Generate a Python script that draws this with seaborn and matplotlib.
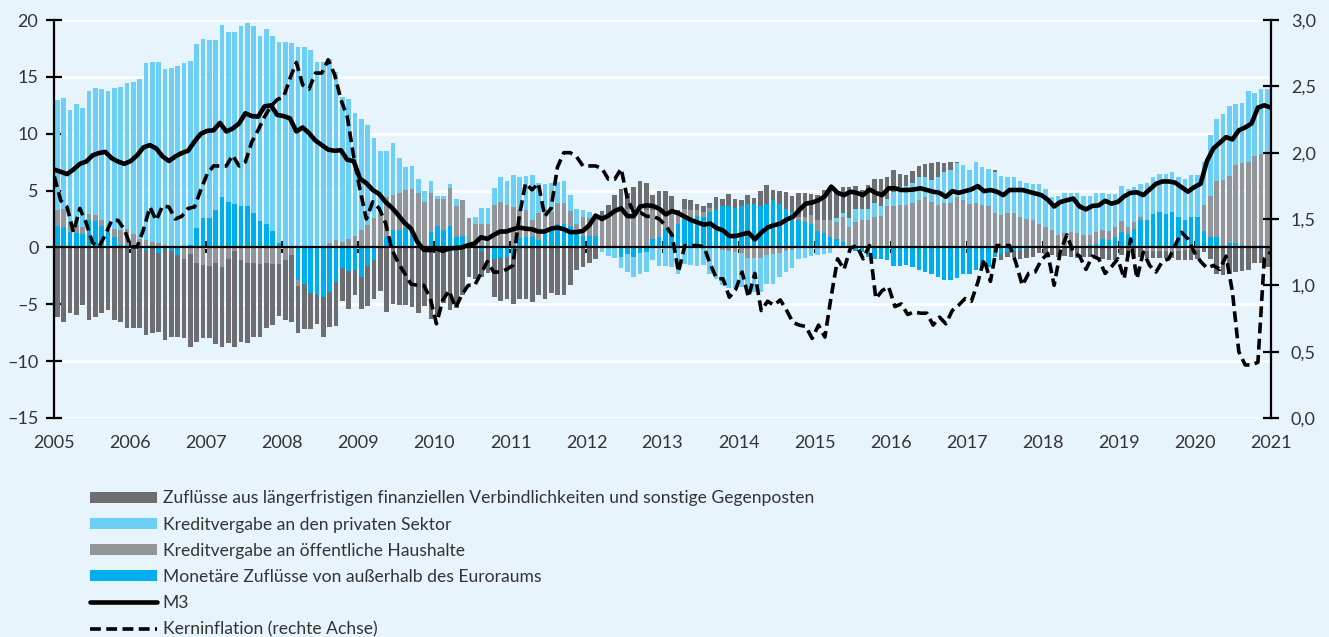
import numpy as np
import pandas as pd
import matplotlib
matplotlib.use("Agg")
import matplotlib.pyplot as plt
import seaborn as sns
from matplotlib.patches import Patch
from matplotlib.lines import Line2D

# ---------------- data (monthly, Jan 2005 - Dec 2020) ----------------
months = pd.date_range("2005-01-01", periods=192, freq="MS")

monetaer = [1.9, 1.8, 1.4, 1.3, 1.2, 2.4, 2.35, 1.9, 1.4, 0.95, 0.2, 0.2, 0.15, 0.0, -0.25, 0.0, -0.5, 0.0, -0.3, -0.7, 0.0, 0.2, 1.7, 2.6, 2.6, 3.3, 4.4,
            4.0, 3.8, 3.6, 3.6, 3.05, 2.35, 2.05, 1.45, 0.35, 0.0, 0.0, -2.9, -3.2, -4.0, -4.2, -4.35, -3.9, -3.0, -1.85, -2.05, -1.95, -2.6, -1.65, -1.1, 0.0, 0.95, 1.5,
            1.5, 1.75, 1.6, 0.35, 0.0, 1.4, 1.9, 1.5, 1.9, 0.95, 1.0, 0.0, 0.0, -0.3, 0.0, -1.05, -0.9, -0.8, -0.75, 0.8, 0.95, 0.9, 0.65, 1.15, 1.5, 2.05, 2.1,
            1.9, 1.5, 1.0, 1.0, 1.0, 0.1, 0.0, 0.0, -0.8, -0.6, -0.8, -0.5, -0.4, 0.7, 0.9, 1.65, 1.3, 2.05, 2.55, 2.55, 2.8, 2.7, 3.15, 3.3, 3.6, 3.6, 3.45,
            3.6, 3.85, 3.85, 3.6, 3.85, 4.15, 3.85, 3.35, 3.15, 2.4, 2.25, 2.05, 1.45, 1.3, 0.9, 0.7, 0.5, 0.0, -0.3, -0.4, -0.8, -1.0, -1.0, -1.1, -1.65, -1.65,
            -1.55, -1.7, -1.95, -2.15, -2.3, -2.6, -2.9, -2.9, -2.65, -2.3, -2.3, -2.0, -1.85, -1.7, -0.8, -0.6, -0.4, -0.3, -0.2, -0.1, 0.0, 0.0, 0.0, 0.0, 0.0, 0.0, 0.0,
            0.0, 0.0, 0.2, 0.3, 0.7, 0.65, 0.9, 1.4, 1.15, 1.65, 2.45, 2.4, 2.95, 3.15, 2.95, 3.15, 2.65, 2.4, 2.65, 2.7, 1.45, 0.95, 0.95, 0.0, 0.35, 0.4, 0.2, 0.0, 0.0, 0.2, 0.0]

oeffentlich = [1.4, 1.55, 0.85, 0.7, 0.6, 0.5, 0.5, 0.5, 0.4, 0.65, 1.3, 1.45, 1.05, 0.7, 0.65, 0.5, 0.35, 0.2, 0.1, 0.0, -1.0, -0.6, -1.4, -1.55, -1.65, -1.4, -1.7,
               -1.05, -0.3, -1.1, -1.35, -1.35, -1.45, -1.4, -1.45, -1.45, -1.1, -0.7, -0.45, 0.0, 0.0, 0.0, 0.0, 0.4, 0.65, 0.5, 0.7, 1.0, 1.5, 1.95, 2.55, 2.95, 3.45, 3.1,
               3.3, 3.3, 3.55, 4.4, 4.0, 3.35, 2.35, 2.75, 3.35, 2.7, 3.15, 2.55, 2.05, 2.1, 2.1, 3.7, 4.0, 3.7, 3.55, 2.5, 2.35, 1.5, 2.4, 2.2, 1.65, 1.85, 1.8,
               1.3, 0.6, 1.65, 1.55, 1.7, 2.6, 2.85, 3.15, 3.6, 3.35, 3.45, 3.6, 3.3, 2.6, 2.75, 1.45, 1.9, 0.85, 0.8, 0.7, 0.5, 0.4, 0.3, 0.0, -0.2, -0.3, -0.4,
               -0.5, -0.9, -0.9, -0.9, -0.7, -0.6, -0.5, -0.3, -0.2, 0.3, 0.4, 0.8, 0.95, 1.1, 1.5, 1.55, 2.2, 1.8, 2.25, 2.45, 2.4, 2.7, 2.75, 3.6, 3.6, 3.7,
               3.7, 3.9, 4.2, 4.4, 4.0, 3.7, 3.9, 3.9, 4.45, 4.15, 3.85, 3.9, 3.7, 3.6, 3.0, 2.85, 3.05, 3.05, 2.7, 2.5, 2.4, 2.05, 1.8, 1.5, 1.1, 1.25, 1.4,
               1.3, 1.1, 0.9, 1.1, 0.8, 0.8, 0.9, 0.95, 0.65, 0.6, 0.25, -0.3, -0.3, -0.3, -0.35, -0.3, -0.3, -0.2, -0.2, -0.2, 2.25, 3.6, 4.9, 5.9, 5.95, 6.85, 7.2, 7.55, 8.05, 8.0, 8.25]

privat = [9.66, 9.75, 9.85, 10.6, 10.5, 10.85, 11.2, 11.5, 12.0, 12.45, 12.65, 12.8, 13.35, 14.1, 15.55, 15.8, 15.95, 15.45, 15.7, 15.95, 16.25, 16.2, 16.15, 15.7, 15.6, 14.95, 15.15,
          14.95, 15.15, 15.85, 16.15, 16.4, 16.25, 17.2, 17.1, 17.7, 18.05, 18.0, 17.65, 17.65, 17.35, 16.35, 16.3, 16.15, 14.8, 12.7, 12.35, 10.85, 9.8, 8.8, 7.05, 5.5, 4.05, 4.6,
          3.05, 2.05, 2.0, 1.3, 0.95, 1.1, 0.25, 0.3, 0.3, 0.6, 0.05, 0.0, 0.65, 1.35, 1.35, 1.55, 2.15, 2.15, 2.8, 2.85, 3.0, 3.95, 2.6, 2.2, 2.55, 1.85, 1.9,
          1.45, 1.25, 0.65, 0.6, 0.2, -0.4, -0.75, -0.9, -1.05, -1.55, -1.8, -1.8, -1.75, -1.1, -1.65, -1.65, -1.7, -2.3, -1.45, -1.55, -1.65, -1.55, -2.3, -2.8, -3.1, -3.3, -3.2,
          -3.0, -2.8, -3.0, -3.0, -2.5, -2.6, -2.1, -1.9, -1.65, -1.05, -0.95, -0.75, -0.7, -0.6, -0.5, 0.3, 0.3, 0.75, 1.1, 0.9, 0.95, 1.25, 0.85, 0.7, 1.3, 1.65,
          1.7, 1.75, 1.95, 1.8, 1.9, 2.45, 2.75, 2.95, 2.95, 3.1, 2.95, 3.65, 3.4, 3.3, 3.65, 3.45, 3.15, 3.15, 3.1, 3.2, 3.15, 3.55, 3.3, 2.95, 3.4, 3.55, 3.35,
          3.45, 3.45, 3.45, 3.4, 3.25, 3.25, 2.9, 3.05, 3.3, 3.05, 2.85, 3.3, 3.2, 3.35, 3.5, 3.45, 3.5, 3.6, 3.7, 3.65, 3.8, 5.35, 5.45, 5.85, 6.1, 5.35, 5.3, 6.2, 5.55, 5.7, 5.65]

zufluesse = [-6.15, -6.55, -5.75, -5.9, -5.1, -6.35, -6.1, -5.8, -5.5, -6.4, -6.6, -7.1, -7.1, -7.1, -7.45, -7.5, -6.9, -8.15, -7.6, -7.2, -7.0, -8.15, -6.9, -6.45, -6.35, -7.05, -7.1,
             -7.35, -8.5, -7.2, -7.05, -6.55, -6.45, -5.7, -5.4, -4.6, -5.3, -5.85, -4.2, -4.0, -3.2, -2.5, -3.5, -3.1, -3.9, -2.85, -3.35, -2.25, -2.8, -3.5, -3.45, -3.8, -5.65, -5.0,
             -5.05, -5.05, -5.2, -5.8, -5.15, -6.25, -5.95, -4.9, -5.5, -5.35, -4.2, -2.6, -2.8, -2.3, -2.25, -3.3, -3.8, -3.75, -4.25, -4.5, -4.55, -4.8, -4.2, -4.5, -4.05, -4.2, -4.2,
             -3.3, -2.0, -1.7, -1.35, -1.05, 0.5, 0.85, 1.5, 1.55, 1.45, 1.9, 2.25, 2.4, 1.35, 1.3, 1.85, 1.35, 0.4, 0.9, 0.9, 0.55, 0.55, 0.5, 1.1, 0.65, 1.1, 0.85,
             0.55, 0.8, 0.5, 1.35, 1.65, 0.9, 1.1, 1.5, 1.4, 2.1, 2.15, 1.85, 2.25, 2.65, 2.95, 2.3, 2.35, 2.8, 2.05, 1.7, 2.15, 2.05, 2.4, 1.85, 1.9, 1.15,
             0.95, 1.1, 1.0, 1.15, 1.5, 1.4, 0.8, 0.7, 0.15, 0.0, 0.0, 0.0, 0.0, 0.0, 0.15, -0.5, -0.4, -0.5, -0.8, -0.8, -0.8, -0.5, -0.55, -0.7, -0.8, -0.75, -0.8,
             -0.9, -0.8, -0.85, -0.9, -1.0, -1.1, -1.1, -0.7, -0.8, -0.95, -0.85, -0.6, -0.6, -0.6, -0.6, -0.6, -0.8, -0.9, -0.9, -0.8, -0.4, -1.0, -2.3, -2.45, -2.3, -2.15, -2.05, -1.95, -1.4, -1.4, -1.7]

m3 = [6.85, 6.65, 6.45, 6.85, 7.35, 7.55, 8.1, 8.3, 8.4, 7.85, 7.55, 7.35, 7.6, 8.1, 8.8, 9.0, 8.7, 8.0, 7.6, 8.0, 8.3, 8.5, 9.3, 10.0, 10.25, 10.3, 10.95,
      10.2, 10.45, 10.9, 11.8, 11.55, 11.5, 12.4, 12.5, 11.65, 11.55, 11.35, 10.2, 10.55, 10.05, 9.4, 9.0, 8.6, 8.5, 8.55, 7.7, 7.6, 6.05, 5.65, 5.05, 4.7, 4.0, 3.5,
      2.85, 2.15, 1.65, 0.5, -0.2, -0.25, -0.1, -0.3, -0.1, -0.05, 0.0, 0.2, 0.35, 0.9, 0.75, 1.1, 1.4, 1.4, 1.6, 1.75, 1.65, 1.6, 1.4, 1.4, 1.65, 1.75, 1.6,
      1.35, 1.35, 1.45, 1.95, 2.8, 2.5, 2.8, 3.2, 3.45, 2.75, 2.75, 3.6, 3.7, 3.65, 3.4, 2.9, 3.2, 3.0, 2.7, 2.4, 2.2, 2.0, 2.1, 1.7, 1.5, 1.0, 1.0,
      1.15, 1.3, 0.7, 1.3, 1.75, 1.95, 2.1, 2.45, 2.7, 3.3, 3.85, 3.95, 4.15, 4.5, 5.35, 4.8, 4.6, 4.9, 4.8, 4.6, 5.1, 4.8, 4.6, 5.2, 5.2, 5.05,
      5.05, 5.1, 5.2, 5.05, 4.9, 4.8, 4.45, 4.95, 4.8, 4.95, 5.1, 5.4, 4.95, 5.05, 4.9, 4.6, 5.05, 5.05, 5.05, 4.9, 4.75, 4.6, 4.2, 3.6, 4.0, 4.15, 4.3,
      3.6, 3.35, 3.65, 3.7, 4.1, 3.85, 4.0, 4.5, 4.8, 4.85, 4.6, 5.1, 5.6, 5.8, 5.8, 5.7, 5.3, 4.9, 5.3, 5.6, 7.6, 8.7, 9.2, 9.7, 9.5, 10.3, 10.55, 10.9, 12.3, 12.5, 12.3]

kerninflation = [1.82, 1.64, 1.59, 1.40, 1.58, 1.47, 1.32, 1.29, 1.38, 1.49, 1.49, 1.42, 1.29, 1.29, 1.42, 1.59, 1.49, 1.60, 1.59, 1.50, 1.52, 1.58, 1.59, 1.72, 1.84, 1.90, 1.90,
                 1.90, 1.98, 1.90, 1.93, 2.08, 2.17, 2.27, 2.35, 2.40, 2.42, 2.56, 2.68, 2.51, 2.48, 2.60, 2.60, 2.70, 2.59, 2.40, 2.27, 1.97, 1.72, 1.50, 1.63, 1.58, 1.47, 1.27,
                 1.17, 1.09, 1.01, 1.0, 1.0, 0.91, 0.71, 0.89, 0.96, 0.83, 0.93, 1.0, 1.0, 1.09, 1.18, 1.10, 1.10, 1.12, 1.15, 1.52, 1.77, 1.72, 1.77, 1.52, 1.58, 1.89, 2.0,
                 2.0, 1.97, 1.90, 1.90, 1.90, 1.88, 1.80, 1.80, 1.88, 1.65, 1.55, 1.55, 1.52, 1.52, 1.50, 1.45, 1.38, 1.10, 1.30, 1.30, 1.30, 1.29, 1.16, 1.05, 1.05, 0.91, 0.97,
                 1.10, 0.91, 1.09, 0.81, 0.88, 0.85, 0.89, 0.81, 0.72, 0.70, 0.69, 0.60, 0.70, 0.61, 0.92, 1.20, 1.12, 1.28, 1.30, 1.20, 1.30, 0.90, 0.96, 0.99, 0.84, 0.86,
                 0.78, 0.80, 0.79, 0.79, 0.70, 0.76, 0.71, 0.81, 0.85, 0.90, 0.88, 1.02, 1.20, 1.03, 1.30, 1.30, 1.30, 1.17, 1.00, 1.09, 1.10, 1.19, 1.24, 1.00, 1.26, 1.38, 1.25,
                 1.22, 1.12, 1.22, 1.20, 1.09, 1.14, 1.20, 1.05, 1.35, 1.05, 1.25, 1.15, 1.10, 1.18, 1.20, 1.30, 1.40, 1.35, 1.25, 1.18, 1.13, 1.15, 1.12, 1.22, 0.95, 0.50, 0.40, 0.40, 0.42, 1.20, 1.25]

year_ticks = list(range(2005, 2022))
left_ticks = [20, 15, 10, 5, 0, -5, -10, -15]
right_ticks = [0.0, 0.5, 1.0, 1.5, 2.0, 2.5, 3.0]

series_names = ["Zuflüsse aus längerfristigen finanziellen Verbindlichkeiten und sonstige Gegenposten",
                "Kreditvergabe an den privaten Sektor",
                "Kreditvergabe an öffentliche Haushalte",
                "Monetäre Zuflüsse von außerhalb des Euroraums",
                "M3",
                "Kerninflation (rechte Achse)"]

# ---------------- style ----------------
BG = "#E7F4FB"
C_ZUF = "#6D6E71"
C_PRIV = "#6DCFF6"
C_OEFF = "#939598"
C_MON = "#00AEEF"
TXT = "#333333"

sns.set_theme(style="white")
plt.rcParams["font.family"] = ["Lato", "DejaVu Sans"]

fig = plt.figure(figsize=(13.29, 6.37), dpi=100, facecolor=BG)
ax = fig.add_axes([0.0409, 0.3438, 0.9152, 0.6248])
ax.set_facecolor(BG)

t = months.year + (months.month - 1) / 12.0
t = np.asarray(t, dtype=float)
n = len(t)

# stacked bars (positive and negative stacked separately)
order = [(monetaer, C_MON), (oeffentlich, C_OEFF), (privat, C_PRIV), (zufluesse, C_ZUF)]
pos = np.zeros(n)
neg = np.zeros(n)
bw = 0.72 / 12
for vals, col in order:
    v = np.asarray(vals, dtype=float)
    bottom = np.where(v >= 0, pos, neg)
    ax.bar(t + 0.1 / 12, v, width=bw, bottom=bottom, align="edge", color=col,
           linewidth=0, zorder=2)
    pos = pos + np.where(v > 0, v, 0)
    neg = neg + np.where(v < 0, v, 0)

# lines
tl = 2005 + np.arange(n) * 16.0 / (n - 1)
df = pd.DataFrame({"t": tl, "m3": m3, "core": kerninflation})
sns.lineplot(data=df, x="t", y="m3", ax=ax, color="black", linewidth=3.3, zorder=5)

ax.set_xlim(2005, 2021)
ax.set_ylim(-15, 20)
ax.axhline(0, color="black", lw=1.6, zorder=4)

ax.set_yticks(left_ticks)
ax.set_yticklabels([str(v).replace("-", "\u2013") for v in left_ticks])
ax.yaxis.grid(True, color="white", lw=2.0, zorder=0)
ax.set_axisbelow(True)
ax.set_xlabel("")
ax.set_ylabel("")

for s in ["top", "right"]:
    ax.spines[s].set_visible(False)
ax.spines["left"].set_color("black")
ax.spines["left"].set_linewidth(1.6)
ax.spines["bottom"].set_position(("data", 0))
ax.spines["bottom"].set_visible(False)
ax.set_xticks(year_ticks)
ax.tick_params(axis="x", direction="inout", length=8, width=1.3, color="black",
               labelbottom=False, bottom=True)
ax.tick_params(axis="y", direction="inout", length=11, width=1.6, color="black",
               labelsize=13, labelcolor=TXT, pad=6, left=True)

# x tick labels at the bottom
sec = ax.secondary_xaxis("bottom")
sec.set_xticks(year_ticks)
sec.set_xticklabels([str(y) for y in year_ticks])
sec.tick_params(length=0, labelsize=13, labelcolor=TXT, pad=12)
sec.spines["bottom"].set_visible(False)

# right axis
ax2 = ax.twinx()
sns.lineplot(data=df, x="t", y="core", ax=ax2, color="black", linewidth=2.6, zorder=6)
ax2.lines[-1].set_dashes([3.0, 1.5])
ax2.set_ylim(0, 3.0)
ax2.set_xlim(2005, 2021)
ax2.set_yticks(right_ticks)
ax2.set_yticklabels([f"{v:.1f}".replace(".", ",") for v in right_ticks])
ax2.set_ylabel("")
for s in ["top", "left", "bottom"]:
    ax2.spines[s].set_visible(False)
ax2.spines["right"].set_color("black")
ax2.spines["right"].set_linewidth(1.6)
ax2.tick_params(axis="y", direction="inout", length=11, width=1.6, color="black",
                labelsize=13, labelcolor=TXT, pad=9, right=True)
ax2.grid(False)

# legend
handles = [Patch(facecolor=C_ZUF, edgecolor="none"),
           Patch(facecolor=C_PRIV, edgecolor="none"),
           Patch(facecolor=C_OEFF, edgecolor="none"),
           Patch(facecolor=C_MON, edgecolor="none"),
           Line2D([], [], color="black", lw=3.3),
           Line2D([], [], color="black", lw=2.6, dashes=[3.0, 1.5])]
leg = fig.legend(handles, series_names, loc="upper left",
                 bbox_to_anchor=(90 / 1329, 1 - 490.5 / 637), frameon=False,
                 fontsize=12.6, handlelength=3.8, handleheight=0.6, handletextpad=0.36,
                 labelspacing=0.58, borderpad=0, borderaxespad=0)
for txt in leg.get_texts():
    txt.set_color(TXT)

fig.savefig("out.png", dpi=100, facecolor=BG)
